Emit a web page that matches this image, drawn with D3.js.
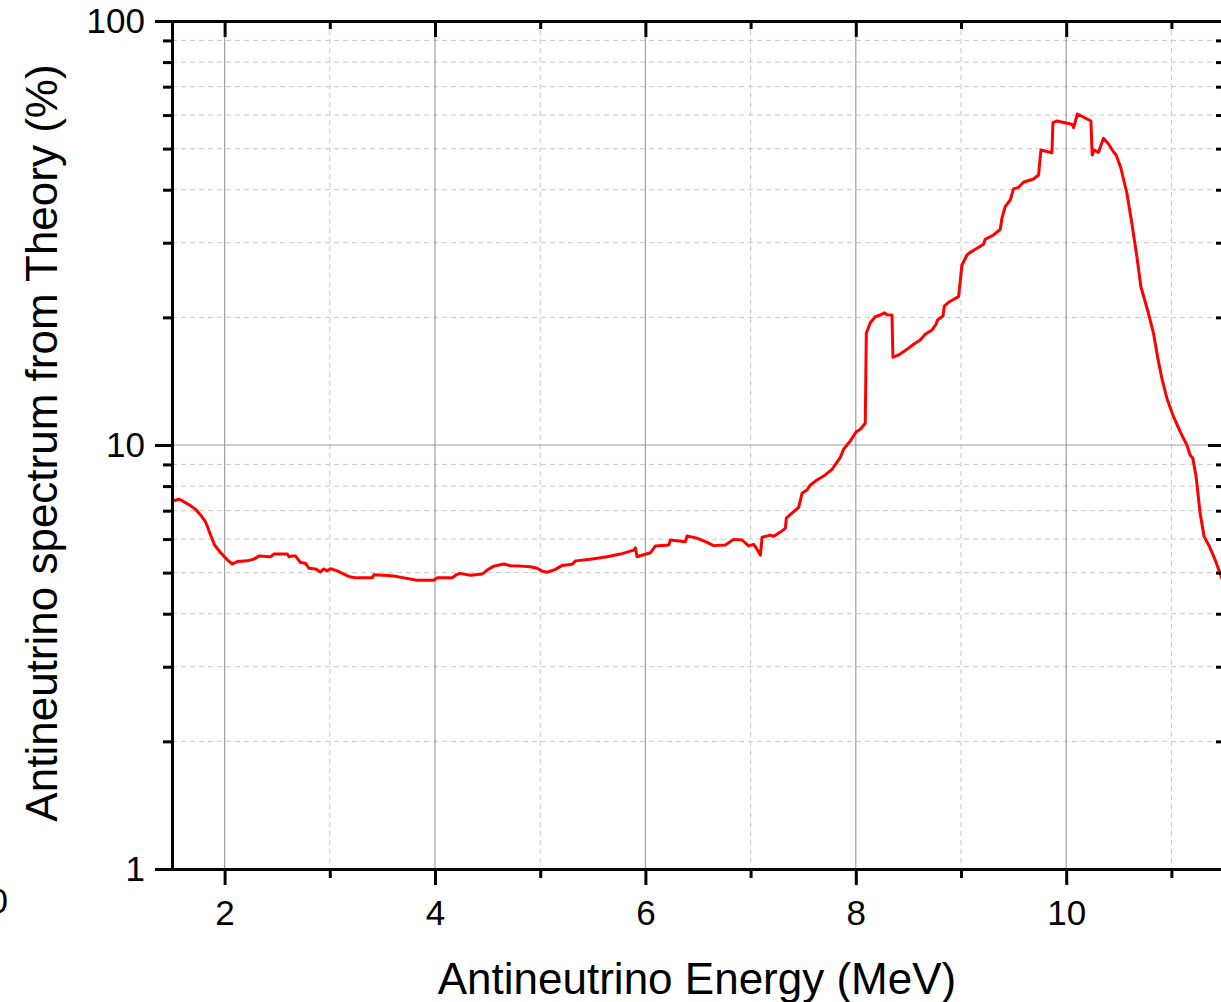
<!DOCTYPE html>
<html>
<head>
<meta charset="utf-8">
<script src="https://cdn.jsdelivr.net/npm/d3@7"></script>
<style>
  html, body { margin: 0; padding: 0; background: #fff; overflow: hidden; }
  svg { display: block; font-family: "Liberation Sans", Arial, sans-serif; }
</style>
</head>
<body>
<svg id="chart" width="1221" height="1002"></svg>
<script>
// Antineutrino energy (MeV) sample points
const energy = [
  1.515, 1.566, 1.613, 1.677, 1.724, 1.772, 1.819, 1.867, 1.905, 1.962,
  2.026, 2.073, 2.121, 2.216, 2.278, 2.326, 2.437, 2.468, 2.596, 2.611,
  2.643, 2.675, 2.722, 2.770, 2.801, 2.865, 2.912, 2.943, 2.976, 3.007,
  3.071, 3.133, 3.197, 3.261, 3.403, 3.418, 3.514, 3.609, 3.704, 3.831,
  3.989, 4.021, 4.163, 4.195, 4.236, 4.337, 4.448, 4.496, 4.559, 4.654,
  4.717, 4.812, 4.907, 4.971, 5.019, 5.066, 5.145, 5.209, 5.304, 5.335,
  5.478, 5.636, 5.763, 5.889, 5.905, 5.921, 6.048, 6.095, 6.222, 6.238,
  6.380, 6.396, 6.491, 6.586, 6.649, 6.760, 6.839, 6.919, 6.981, 7.029,
  7.055, 7.093, 7.109, 7.188, 7.219, 7.283, 7.330, 7.340, 7.409, 7.457,
  7.489, 7.536, 7.568, 7.631, 7.710, 7.774, 7.853, 7.884, 7.948, 8.005,
  8.043, 8.090, 8.100, 8.138, 8.185, 8.233, 8.271, 8.296, 8.344, 8.353,
  8.407, 8.487, 8.549, 8.613, 8.660, 8.724, 8.762, 8.777, 8.829, 8.841,
  8.882, 8.977, 9.009, 9.057, 9.088, 9.152, 9.214, 9.230, 9.309, 9.373,
  9.389, 9.420, 9.468, 9.499, 9.547, 9.594, 9.689, 9.737, 9.760, 9.864,
  9.874, 9.912, 10.054, 10.070, 10.107, 10.235, 10.247, 10.266, 10.307, 10.354,
  10.402, 10.449, 10.475, 10.520, 10.577, 10.624, 10.672, 10.710, 10.782, 10.830,
  10.868, 10.909, 10.957, 11.020, 11.083, 11.147, 11.178, 11.204, 11.235, 11.273,
  11.311, 11.362, 11.416, 11.473, 11.500
];

// Spectrum relative to theory (%)
const spectrum = [
  7.39, 7.45, 7.35, 7.19, 7.05, 6.84, 6.59, 6.13, 5.81, 5.57,
  5.36, 5.24, 5.31, 5.33, 5.38, 5.47, 5.45, 5.53, 5.53, 5.45,
  5.47, 5.47, 5.28, 5.26, 5.12, 5.10, 5.02, 5.10, 5.05, 5.11,
  5.05, 4.96, 4.88, 4.86, 4.86, 4.94, 4.93, 4.91, 4.86, 4.80,
  4.80, 4.86, 4.86, 4.93, 4.98, 4.93, 4.96, 5.07, 5.18, 5.24,
  5.19, 5.18, 5.16, 5.12, 5.04, 5.01, 5.09, 5.20, 5.23, 5.33,
  5.38, 5.45, 5.53, 5.65, 5.72, 5.45, 5.57, 5.78, 5.81, 5.97,
  5.91, 6.10, 6.03, 5.89, 5.79, 5.81, 5.99, 5.97, 5.78, 5.83,
  5.71, 5.50, 6.06, 6.13, 6.09, 6.23, 6.36, 6.72, 6.96, 7.13,
  7.69, 7.83, 8.05, 8.27, 8.50, 8.76, 9.35, 9.77, 10.23, 10.75,
  10.89, 11.25, 18.34, 19.43, 20.07, 20.26, 20.51, 20.29, 20.26, 16.10,
  16.31, 16.81, 17.28, 17.69, 18.24, 18.67, 19.26, 19.71, 20.15, 21.27,
  21.71, 22.38, 26.58, 28.06, 28.47, 29.10, 29.74, 30.56, 31.28, 32.26,
  34.24, 36.48, 37.83, 40.16, 40.53, 41.65, 42.41, 43.34, 49.63, 48.91,
  57.56, 58.11, 57.08, 56.03, 60.35, 58.11, 48.31, 49.63, 49.01, 52.89,
  51.28, 49.17, 48.31, 44.95, 39.24, 33.33, 27.80, 23.62, 20.45, 18.34,
  16.16, 14.37, 12.89, 11.66, 10.75, 10.00, 9.47, 9.30, 8.42, 6.90,
  6.08, 5.76, 5.36, 4.89, 4.73
];

// Tick values
const xMajorTicks = [2, 4, 6, 8, 10];
const xMinorTicks = [3, 5, 7, 9, 11];
const yMajorTicks = [1, 10, 100];
const yMinorTicks = [2, 3, 4, 5, 6, 7, 8, 9, 20, 30, 40, 50, 60, 70, 80, 90];

const xTitle = "Antineutrino Energy (MeV)";
const yTitle = "Antineutrino spectrum from Theory (%)";

const points = energy.map((e, i) => ({ e, v: spectrum[i] }));

const svg = d3.select("#chart");
const plotLeft = 172, plotRight = 1224, plotTop = 21, plotBottom = 869;

const x = d3.scaleLinear().domain([1.5, 11.5]).range([plotLeft, plotRight]);
const y = d3.scaleLog().domain([1, 100]).range([plotBottom, plotTop]);

// Grid lines
const grid = svg.append("g");
grid.selectAll("line.xminor").data(xMinorTicks).join("line")
  .attr("x1", d => x(d)).attr("x2", d => x(d)).attr("y1", plotTop).attr("y2", plotBottom)
  .attr("stroke", "#c8c8c8").attr("stroke-width", 1).attr("stroke-dasharray", "5,4");
grid.selectAll("line.yminor").data(yMinorTicks).join("line")
  .attr("x1", plotLeft).attr("x2", plotRight).attr("y1", d => y(d)).attr("y2", d => y(d))
  .attr("stroke", "#c8c8c8").attr("stroke-width", 1).attr("stroke-dasharray", "5,4");
grid.selectAll("line.xmajor").data(xMajorTicks).join("line")
  .attr("x1", d => x(d)).attr("x2", d => x(d)).attr("y1", plotTop).attr("y2", plotBottom)
  .attr("stroke", "#a0a0a0").attr("stroke-width", 1.2);
grid.selectAll("line.ymajor").data([10]).join("line")
  .attr("x1", plotLeft).attr("x2", plotRight).attr("y1", d => y(d)).attr("y2", d => y(d))
  .attr("stroke", "#a0a0a0").attr("stroke-width", 1.2);

// Spectrum curve
svg.append("clipPath").attr("id", "plot-clip")
  .append("rect").attr("x", plotLeft).attr("y", plotTop)
  .attr("width", plotRight - plotLeft).attr("height", plotBottom - plotTop);

const line = d3.line().x(d => x(d.e)).y(d => y(d.v));
svg.append("path")
  .datum(points)
  .attr("clip-path", "url(#plot-clip)")
  .attr("fill", "none")
  .attr("stroke", "#ff0000")
  .attr("stroke-width", 3)
  .attr("stroke-linejoin", "round")
  .attr("d", line);

// Axes
function styleAxis(g, width) {
  g.selectAll(".domain").attr("stroke", "#000").attr("stroke-width", width);
  g.selectAll(".tick line").attr("stroke", "#000").attr("stroke-width", width);
  g.selectAll(".tick text").attr("fill", "#000");
}

const fontSize = 35;
const fontFamily = "Liberation Sans, Arial, sans-serif";

// bottom
const gb = svg.append("g").attr("transform", `translate(0,${plotBottom})`);
gb.append("g").call(d3.axisBottom(x).tickValues(xMinorTicks).tickSize(9).tickSizeOuter(0).tickFormat(""))
  .call(g => styleAxis(g, 3));
gb.append("g").call(d3.axisBottom(x).tickValues(xMajorTicks).tickSize(16).tickSizeOuter(0).tickPadding(15).tickFormat(d3.format("d")))
  .call(g => styleAxis(g, 3))
  .call(g => g.selectAll(".tick text").attr("font-size", fontSize).attr("font-family", fontFamily));

// top (inward ticks)
const gt = svg.append("g").attr("transform", `translate(0,${plotTop})`);
gt.append("g").call(d3.axisBottom(x).tickValues(xMinorTicks).tickSize(8).tickSizeOuter(0).tickFormat(""))
  .call(g => styleAxis(g, 3));
gt.append("g").call(d3.axisBottom(x).tickValues(xMajorTicks).tickSize(16).tickSizeOuter(0).tickFormat(""))
  .call(g => styleAxis(g, 3));

// left
const gl = svg.append("g").attr("transform", `translate(${plotLeft},0)`);
gl.append("g").call(d3.axisLeft(y).tickValues(yMinorTicks).tickSize(9).tickSizeOuter(0).tickFormat(""))
  .call(g => styleAxis(g, 3));
gl.append("g").call(d3.axisLeft(y).tickValues(yMajorTicks).tickSize(17).tickSizeOuter(0).tickPadding(10).tickFormat(d3.format("d")))
  .call(g => styleAxis(g, 3))
  .call(g => g.selectAll(".tick text").attr("font-size", fontSize).attr("font-family", fontFamily));

// right (inward ticks)
const gr = svg.append("g").attr("transform", `translate(${plotRight},0)`);
gr.append("g").call(d3.axisLeft(y).tickValues(yMinorTicks).tickSize(8).tickSizeOuter(0).tickFormat(""))
  .call(g => styleAxis(g, 3));
gr.append("g").call(d3.axisLeft(y).tickValues(yMajorTicks).tickSize(16).tickSizeOuter(0).tickFormat(""))
  .call(g => styleAxis(g, 3));

// Axis titles
svg.append("text")
  .attr("x", 697).attr("y", 994)
  .attr("text-anchor", "middle")
  .attr("font-size", 44)
  .attr("font-family", fontFamily)
  .attr("fill", "#000")
  .text(xTitle);

svg.append("text")
  .attr("transform", "translate(57,443) rotate(-90)")
  .attr("text-anchor", "middle")
  .attr("font-size", 44)
  .attr("font-family", fontFamily)
  .attr("fill", "#000")
  .text(yTitle);

// Partial label at the left margin
svg.append("text")
  .attr("x", 8).attr("y", 913)
  .attr("text-anchor", "end")
  .attr("font-size", fontSize)
  .attr("font-family", fontFamily)
  .attr("fill", "#000")
  .text("0");
</script>
</body>
</html>
